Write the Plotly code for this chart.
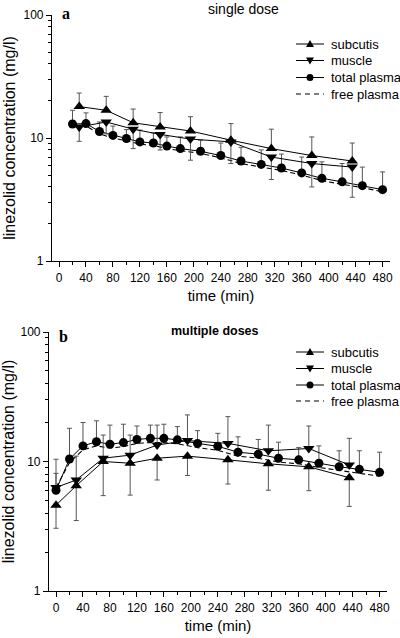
import plotly.graph_objects as go

# ---------------- data: (a) single dose ----------------
a_tissue_t = [30, 70, 110, 150, 195, 255, 315, 375, 435]
a_subcutis = [18.0, 16.8, 13.3, 12.3, 11.4, 9.6, 8.2, 7.2, 6.5]
a_subcutis_err = [5.2, 5.0, 3.9, 3.8, 3.5, 3.5, 3.6, 3.0, 2.6]
a_muscle = [12.3, 13.5, 11.8, 10.7, 9.8, 9.3, 7.0, 6.2, 5.8]
a_muscle_err = [2.9, 2.7, 3.6, 2.7, 3.2, 3.1, 2.4, 2.2, 2.5]
a_plasma_t = [20, 40, 60, 80, 100, 120, 140, 160, 180, 210, 240, 270, 300, 330, 360, 390, 420, 450, 480]
a_total = [13.0, 13.1, 11.3, 10.5, 9.9, 9.3, 9.1, 8.6, 8.2, 7.8, 7.2, 6.5, 6.1, 5.7, 5.2, 4.7, 4.4, 4.1, 3.8]
a_total_err = [3.8, 2.9, 2.2, 2.0, 1.8, 2.3, 1.9, 1.6, 2.0, 1.8, 1.9, 1.9, 1.9, 1.7, 1.8, 1.7, 1.8, 1.7, 1.5]
a_free = [12.5, 12.5, 10.8, 10.0, 9.5, 8.9, 8.7, 8.2, 7.9, 7.5, 6.9, 6.2, 5.8, 5.45, 5.0, 4.5, 4.2, 3.95, 3.65]

# ---------------- data: (b) multiple doses ----------------
b_tissue_t = [0, 30, 70, 110, 150, 195, 255, 315, 375, 435]
b_subcutis = [4.6, 6.5, 10.0, 9.7, 10.6, 11.0, 10.3, 9.6, 9.1, 7.5]
b_subcutis_err = [1.55, 3.0, 4.55, 4.2, 3.4, 3.2, 3.6, 3.6, 3.15, 3.0]
b_muscle = [6.3, 7.2, 10.6, 11.2, 13.4, 14.5, 13.8, 12.1, 12.6, 9.4]
b_muscle_err = [4.1, 3.8, 5.4, 4.8, 5.7, 8.4, 8.4, 7.0, 6.2, 5.7]
b_plasma_t = [0, 20, 40, 60, 80, 100, 120, 140, 160, 180, 210, 240, 270, 300, 330, 360, 390, 420, 450, 480]
b_total = [6.0, 10.45, 13.2, 14.2, 13.6, 14.0, 14.8, 15.1, 15.1, 14.7, 13.8, 13.1, 11.8, 11.4, 10.6, 10.3, 9.7, 9.1, 8.7, 8.25]
b_total_err = [2.1, 7.6, 6.8, 6.4, 5.5, 5.4, 4.0, 4.0, 4.3, 3.9, 3.5, 3.4, 3.7, 3.4, 3.5, 2.5, 3.5, 3.0, 3.4, 3.55]
b_free = [6.3, 9.8, 12.3, 13.2, 12.7, 13.0, 13.8, 14.0, 14.0, 13.7, 12.8, 12.2, 11.0, 10.6, 9.9, 9.6, 9.0, 8.5, 8.1, 7.7]

x_ticks = [0, 40, 80, 120, 160, 200, 240, 280, 320, 360, 400, 440, 480]
y_ticks = [1, 10, 100]
y_ticktext = ["1", "10", "100"]
legend_names = ["subcutis", "muscle", "total plasma", "free plasma"]

FONT = "Liberation Sans, Arial, sans-serif"
ERRC = "#555555"
W, H = 400, 638

fig = go.Figure()


def err(arr, up=True):
    zeros = [0] * len(arr)
    return dict(type="data", symmetric=False,
                array=arr if up else zeros,
                arrayminus=zeros if up else arr,
                color=ERRC, thickness=1, width=2.5)


def add_panel(xa, ya, tt, sub, sub_e, sub_up, mus, mus_e, mus_up, pt, tot, tot_e, free):
    fig.add_trace(go.Scatter(x=pt, y=free, mode="lines", xaxis=xa, yaxis=ya,
                             line=dict(color="black", width=1.1, dash="5px,3px"),
                             showlegend=False, hoverinfo="skip"))
    fig.add_trace(go.Scatter(x=pt, y=tot, mode="lines+markers", xaxis=xa, yaxis=ya,
                             line=dict(color="black", width=1),
                             marker=dict(symbol="circle", size=9, color="black"),
                             error_y=err(tot_e, True), showlegend=False))
    fig.add_trace(go.Scatter(x=tt, y=mus, mode="lines+markers", xaxis=xa, yaxis=ya,
                             line=dict(color="black", width=1),
                             marker=dict(symbol="triangle-down", size=10, color="black"),
                             error_y=err(mus_e, mus_up), showlegend=False))
    fig.add_trace(go.Scatter(x=tt, y=sub, mode="lines+markers", xaxis=xa, yaxis=ya,
                             line=dict(color="black", width=1),
                             marker=dict(symbol="triangle-up", size=10, color="black"),
                             error_y=err(sub_e, sub_up), showlegend=False))


add_panel("x", "y", a_tissue_t, a_subcutis, a_subcutis_err, True, a_muscle, a_muscle_err, False,
          a_plasma_t, a_total, a_total_err, a_free)
add_panel("x2", "y2", b_tissue_t, b_subcutis, b_subcutis_err, False, b_muscle, b_muscle_err, True,
          b_plasma_t, b_total, b_total_err, b_free)


def px(x):
    return x / W


def py(y):
    return 1 - y / H


def xdom(l, r):
    return [l / W, r / W]


def ydom(top, bot):
    return [1 - bot / H, 1 - top / H]


minor_y = [v * m for m in (1, 10) for v in range(2, 10)]

xcommon = dict(range=[-10.4, 491], tickvals=x_ticks, ticks="outside", ticklen=5, tickwidth=1,
               tickcolor="black", showline=True, linecolor="black", linewidth=1.2,
               showgrid=False, zeroline=False, automargin=False,
               tickfont=dict(family=FONT, size=12, color="black"),
               minor=dict(tickvals=list(range(20, 481, 40)), ticks="outside", ticklen=3,
                          tickcolor="black", tickwidth=1),
               title=dict(text="time (min)", font=dict(family=FONT, size=15, color="black"), standoff=6))
ycommon = dict(type="log", range=[0, 2], tickvals=y_ticks, ticktext=y_ticktext, ticks="outside",
               ticklen=5, tickwidth=1, tickcolor="black", showline=True, linecolor="black",
               linewidth=1.2, showgrid=False, zeroline=False, automargin=False,
               tickfont=dict(family=FONT, size=12, color="black"),
               minor=dict(tickvals=minor_y, ticks="outside", ticklen=3, tickcolor="black", tickwidth=1),
               title=dict(text="linezolid concentration (mg/l)",
                          font=dict(family=FONT, size=16, color="black"), standoff=3))

# ---------- manual legends (shapes + annotations) ----------
shapes = []
annotations = []
syms = ["tri-up", "tri-down", "circle", "dash"]


def add_legend(rows_y):
    for name, s, yy in zip(legend_names, syms, rows_y):
        if s == "dash":
            shapes.append(dict(type="line", xref="paper", yref="paper",
                               x0=px(296), x1=px(324), y0=py(yy), y1=py(yy),
                               line=dict(color="black", width=1.1, dash="5px,4px")))
        else:
            shapes.append(dict(type="line", xref="paper", yref="paper",
                               x0=px(296), x1=px(324), y0=py(yy), y1=py(yy),
                               line=dict(color="black", width=1)))
            cx = 310
            if s == "circle":
                shapes.append(dict(type="circle", xref="paper", yref="paper",
                                   x0=px(cx - 3.5), x1=px(cx + 3.5), y0=py(yy + 3.5), y1=py(yy - 3.5),
                                   fillcolor="black", line=dict(color="black", width=0)))
            else:
                if s == "tri-up":
                    pts = [(cx - 4, yy + 3), (cx + 4, yy + 3), (cx, yy - 4)]
                else:
                    pts = [(cx - 4, yy - 3), (cx + 4, yy - 3), (cx, yy + 4)]
                path = "M {:.5f},{:.5f} L {:.5f},{:.5f} L {:.5f},{:.5f} Z".format(
                    px(pts[0][0]), py(pts[0][1]), px(pts[1][0]), py(pts[1][1]),
                    px(pts[2][0]), py(pts[2][1]))
                shapes.append(dict(type="path", xref="paper", yref="paper", path=path,
                                   fillcolor="black", line=dict(color="black", width=0)))
        annotations.append(dict(text=name, x=px(329), y=py(yy), xref="paper", yref="paper",
                                xanchor="left", yanchor="middle", showarrow=False,
                                font=dict(family=FONT, size=13, color="black")))


add_legend([44, 60.5, 77.5, 94])
add_legend([352, 368.5, 385, 401])

annotations += [
    dict(text="<b>a</b>", x=60 / W, y=1 - 13 / H, xref="paper", yref="paper",
         xanchor="left", yanchor="middle", showarrow=False,
         font=dict(family="Liberation Serif, Times New Roman, serif", size=16, color="black")),
    dict(text="single dose", x=243 / W, y=1 - 9 / H, xref="paper", yref="paper",
         xanchor="center", yanchor="middle", showarrow=False,
         font=dict(family=FONT, size=14, color="black")),
    dict(text="<b>b</b>", x=57 / W, y=1 - 336 / H, xref="paper", yref="paper",
         xanchor="left", yanchor="middle", showarrow=False,
         font=dict(family="Liberation Serif, Times New Roman, serif", size=16, color="black")),
    dict(text="<b>multiple doses</b>", x=215 / W, y=1 - 331 / H, xref="paper", yref="paper",
         xanchor="center", yanchor="middle", showarrow=False,
         font=dict(family=FONT, size=12.5, color="black")),
]

fig.update_layout(
    width=W, height=H, margin=dict(l=0, r=0, t=0, b=0, autoexpand=False),
    paper_bgcolor="white", plot_bgcolor="white",
    xaxis=dict(domain=xdom(52, 390), anchor="y", **xcommon),
    yaxis=dict(domain=ydom(15, 261), anchor="x", **ycommon),
    xaxis2=dict(domain=xdom(49, 387), anchor="y2", **xcommon),
    yaxis2=dict(domain=ydom(332, 591), anchor="x2", **ycommon),
    showlegend=False,
    shapes=shapes,
    annotations=annotations,
)

fig.write_html("out.html", config={"displayModeBar": False},
               post_script="document.body.style.margin='0px';document.body.style.overflow='hidden';")
